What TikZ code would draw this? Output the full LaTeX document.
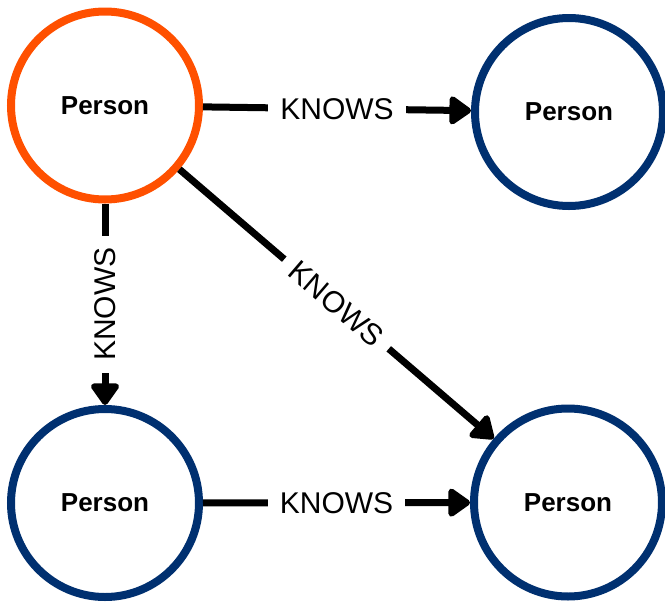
\documentclass[tikz,border=0pt]{standalone}
\usepackage{fontspec}
\setmainfont{Liberation Sans}
\usetikzlibrary{arrows.meta}
\definecolor{neoorange}{RGB}{255,80,0}
\definecolor{neoblue}{RGB}{0,48,112}
\begin{document}
\begin{tikzpicture}[x=1pt,y=-1pt,
  person/.style={circle,draw,line width=8pt,minimum size=188pt,inner sep=0pt,
    font=\fontsize{26}{30}\selectfont\bfseries,fill=white},
  rel/.style={line width=7pt,-{Triangle[length=24pt,width=32pt,round]}},
  lbl/.style={fill=white,font=\fontsize{30}{34}\selectfont,inner ysep=0pt,inner xsep=12pt}]
\useasboundingbox[fill=white] (0,0) rectangle (665,606);
\node[person,draw=neoorange] (p1) at (105,105.5) {Person};
\node[person,draw=neoblue] (p2) at (569,112) {Person};
\node[person,draw=neoblue] (p3) at (105,503) {Person};
\node[person,draw=neoblue] (p4) at (568,502.5) {Person};
\draw[rel] (p1) -- node[lbl]{KNOWS} (p2);
\draw[rel] (p1) -- node[lbl,rotate=90]{KNOWS} (p3);
\draw[rel] (p1) -- node[lbl,sloped]{KNOWS} (p4);
\draw[rel] (p3) -- node[lbl]{KNOWS} (p4);
\end{tikzpicture}
\end{document}
